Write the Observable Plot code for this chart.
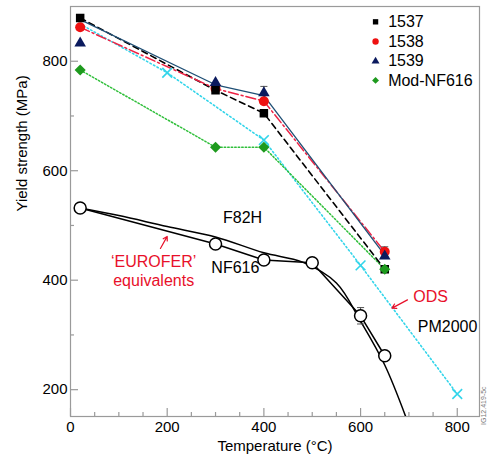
<!DOCTYPE html>
<html>
<head>
<meta charset="utf-8">
<script src="https://cdn.jsdelivr.net/npm/d3@7"></script>
<script src="https://cdn.jsdelivr.net/npm/@observablehq/plot@0.6"></script>
<style>
  html, body { margin: 0; padding: 0; background: #fff; }
  #chart { width: 487px; height: 458px; }
</style>
</head>
<body>
<div id="chart"></div>
<script>
// ---- data ----
const temps = [20, 300, 400, 650];
const s1537 = [879, 747, 705, 420];
const s1538 = [862, 750, 727, 452];
const s1539 = [833, 761, 742, 444];
const line1539 = [876, 757, 737, 446];
const sModNF616 = [784, 643, 643, 420];

const odsTemps = [20, 200, 400, 600, 800];
const odsValues = [868, 779, 656, 427, 192];

const nf616Temps = [20, 300, 400, 500, 600, 650];
const nf616Values = [532, 466, 437, 432, 335, 262];

const f82hTemps = [20, 100, 200, 300, 400, 480, 550, 600, 650, 700];
const f82hValues = [532, 518, 498, 479, 450, 433, 395, 325, 245, 135];

const errorBars = [
  {t: 400, lo: 731, hi: 754},
  {t: 600, lo: 320, hi: 350},
  {t: 650, lo: 443, hi: 461}
];

const legendLabels = ["1537", "1538", "1539", "Mod-NF616"];
const legendY = [872, 836, 800, 765];
const legendX = 631;
const legendTextX = 657;

const annotations = [
  {t: 356, v: 513, text: "F82H", color: "#000"},
  {t: 341, v: 422, text: "NF616", color: "#000"},
  {t: 172, v: 433, text: "\u2018EUROFER\u2019", color: "#e8102a"},
  {t: 172, v: 398, text: "equivalents", color: "#e8102a"},
  {t: 745, v: 369, text: "ODS", color: "#e8102a"},
  {t: 780, v: 314, text: "PM2000", color: "#000"}
];
const arrows = [
  {t1: 186, v1: 458, t2: 200, v2: 480},
  {t1: 697, v1: 364, t2: 665, v2: 349}
];

const xMajor = [0, 200, 400, 600, 800];
const xMinor = d3.range(50, 846, 50).filter(d => d % 200 !== 0);
const yMajor = [200, 400, 600, 800];
const yMinor = [300, 500, 700];

// ---- build ----
const font = "Liberation Sans, Arial, Helvetica, sans-serif";
const W = 487, H = 458, mL = 70, mR = 8, mT = 6, mB = 42;
const fw = W - mL - mR, fh = H - mT - mB;

const pts = (xs, ys) => xs.map((t, i) => ({t, v: ys[i]}));
const d1537 = pts(temps, s1537), d1538 = pts(temps, s1538), d1539 = pts(temps, s1539);
const dl1539 = pts(temps, line1539), dMod = pts(temps, sModNF616);
const dOds = pts(odsTemps, odsValues), dNf = pts(nf616Temps, nf616Values), dF = pts(f82hTemps, f82hValues);
const legend = legendLabels.map((l, i) => ({l, y: legendY[i], i}));

const capSymbol = {draw(ctx, size) { const w = Math.sqrt(size) / 2; ctx.moveTo(-w, 0); ctx.lineTo(w, 0); }};
const axisGray = "#9a9a9a";

const symbols = ["square", "circle", "triangle", "diamond2"];
const fills = ["#000000", "#ee1111", "#0b1a5e", "#1e9a1e"];
const sizes = [4.8, 5, 4.3, 5];
const legendSizes = [3.8, 4.2, 3.6, 4];

const plot = Plot.plot({
  width: W, height: H,
  marginLeft: mL, marginRight: mR, marginTop: mT, marginBottom: mB,
  style: {fontFamily: font, fontSize: "15px", color: "#000", background: "#fff"},
  x: {domain: [0, 846]},
  y: {domain: [151, 900]},
  marks: [
    Plot.frame({stroke: axisGray, strokeWidth: 1.2}),
    Plot.axisX(xMajor, {tickSize: 0, tickPadding: 5, fontSize: 15, label: null}),
    Plot.axisY(yMajor, {tickSize: 0, tickPadding: 3, fontSize: 15, label: null}),
    Plot.tickX(xMajor, {x: d => d, insetTop: fh - 8, stroke: axisGray, strokeWidth: 1.2}),
    Plot.tickX(xMinor, {x: d => d, insetTop: fh - 4, stroke: axisGray, strokeWidth: 1.2}),
    Plot.tickY(yMajor, {y: d => d, insetRight: fw - 8, stroke: axisGray, strokeWidth: 1.2}),
    Plot.tickY(yMinor, {y: d => d, insetRight: fw - 4, stroke: axisGray, strokeWidth: 1.2}),
    Plot.text(["Temperature (\u00b0C)"], {frameAnchor: "bottom", dy: 30, fontSize: 15, lineAnchor: "middle"}),
    Plot.text(["Yield strength (MPa)"], {frameAnchor: "left", dx: -48, rotate: -90, fontSize: 15}),
    Plot.text(["IG12.419-5c"], {frameAnchor: "right", y: () => 206, dx: 4, rotate: -90, fontSize: 7, fill: "#777"}),

    // curves
    Plot.line(dF, {x: "t", y: "v", curve: "catmull-rom", stroke: "#000", strokeWidth: 1.5, clip: true}),
    Plot.line(dNf, {x: "t", y: "v", stroke: "#000", strokeWidth: 1.5}),
    Plot.line(dOds, {x: "t", y: "v", stroke: "#33d5ea", strokeWidth: 1.6, strokeDasharray: "1.5,2.5"}),
    Plot.line(dMod, {x: "t", y: "v", stroke: "#2fbf3a", strokeWidth: 1.5, strokeDasharray: "1.5,2"}),
    Plot.line(d1537, {x: "t", y: "v", stroke: "#000", strokeWidth: 1.6, strokeDasharray: "6,4"}),
    Plot.line(d1538, {x: "t", y: "v", stroke: "#ee2244", strokeWidth: 1.5, strokeDasharray: "10,3,2,3"}),
    Plot.line(dl1539, {x: "t", y: "v", stroke: "#1f4f75", strokeWidth: 1.3}),

    // error bars
    Plot.ruleX(errorBars, {x: "t", y1: "lo", y2: "hi", stroke: "#555", strokeWidth: 1}),
    Plot.dot(errorBars, {x: "t", y: "hi", symbol: capSymbol, r: 4, stroke: "#555", strokeWidth: 1}),
    Plot.dot(errorBars, {x: "t", y: "lo", symbol: capSymbol, r: 4, stroke: "#555", strokeWidth: 1}),

    // markers
    Plot.dot(dOds.slice(1), {x: "t", y: "v", symbol: "times", r: 4.5, stroke: "#33d5ea", strokeWidth: 1.6}),
    Plot.dot(dNf, {x: "t", y: "v", r: 6, fill: "#fff", stroke: "#000", strokeWidth: 1.5}),
    Plot.dot(d1538, {x: "t", y: "v", symbol: "circle", r: sizes[1], fill: fills[1]}),
    Plot.dot(d1537, {x: "t", y: "v", symbol: "square", r: sizes[0], fill: fills[0]}),
    Plot.dot(d1539, {x: "t", y: "v", symbol: "triangle", r: sizes[2], fill: fills[2]}),
    Plot.dot(dMod, {x: "t", y: "v", symbol: "diamond2", r: sizes[3], fill: fills[3]}),

    // annotations
    Plot.text(annotations, {x: "t", y: "v", text: "text", fill: "color", fontSize: 16}),
    Plot.arrow(arrows, {x1: "t1", y1: "v1", x2: "t2", y2: "v2", stroke: "#e8102a", strokeWidth: 1.2, headLength: 6}),

    // legend
    Plot.dot(legend, {x: () => legendX, y: "y", symbol: d => symbols[d.i], fill: d => fills[d.i], r: d => legendSizes[d.i]}),
    Plot.text(legend, {x: () => legendTextX, y: "y", text: "l", textAnchor: "start", fontSize: 16})
  ]
});
document.getElementById("chart").appendChild(plot);
</script>
</body>
</html>
